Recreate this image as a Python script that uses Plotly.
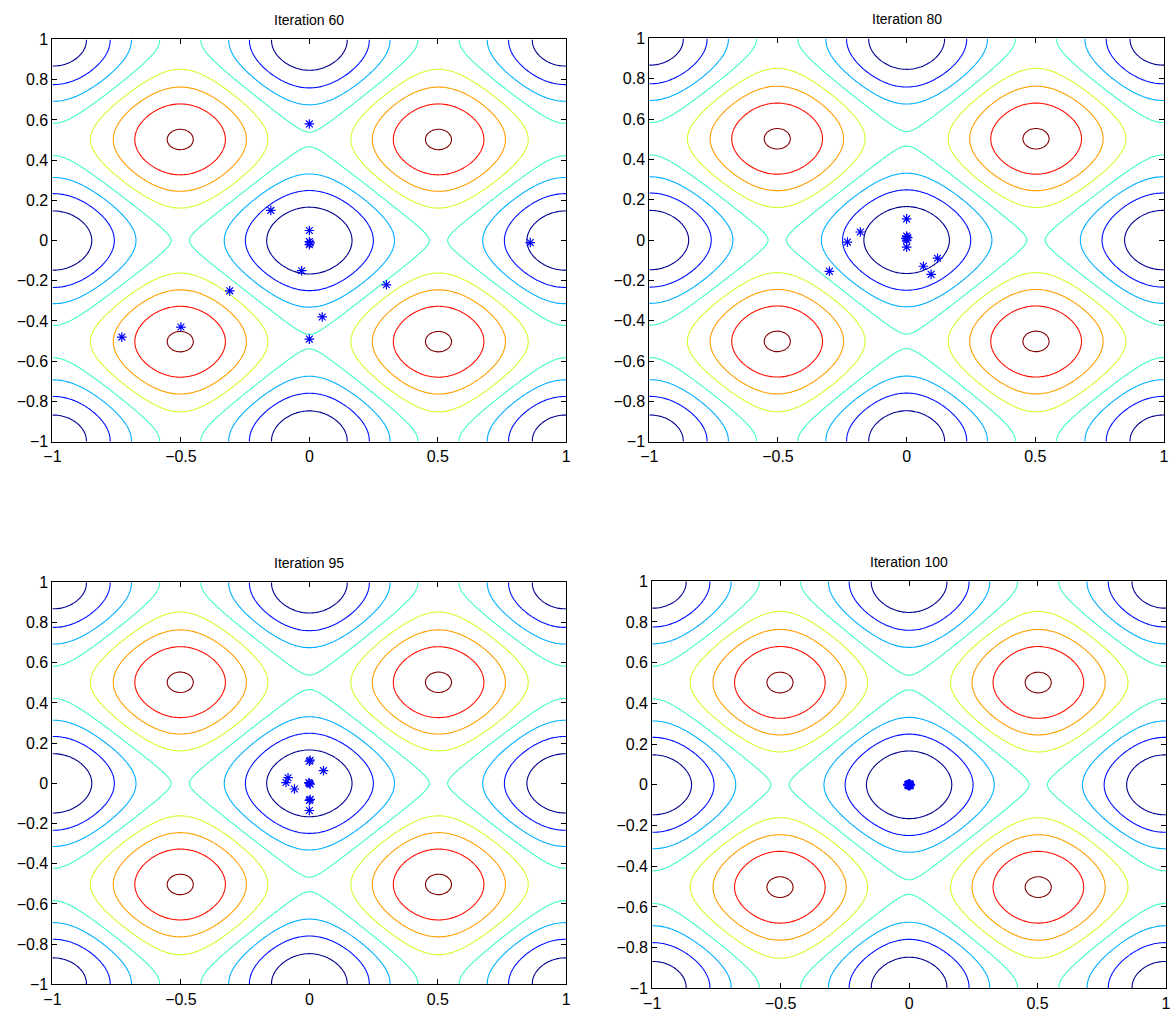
import numpy as np
import plotly.graph_objects as go

# ---- data ----
titles = ["Iteration 60", "Iteration 80", "Iteration 95", "Iteration 100"]

it60_x = [0.0, -0.15, 0.0, 0.0, 0.003, 0.0, -0.03, 0.86, -0.31, 0.30, 0.05, 0.0, -0.73, -0.50]
it60_y = [0.58, 0.15, 0.05, -0.005, -0.012, -0.02, -0.15, -0.01, -0.25, -0.22, -0.38, -0.49, -0.48, -0.43]

it80_x = [0.0, 0.0, 0.004, -0.003, 0.0, 0.0, -0.18, -0.23, -0.30, 0.065, 0.12, 0.095]
it80_y = [0.105, 0.02, 0.012, 0.008, 0.0, -0.035, 0.04, -0.01, -0.155, -0.13, -0.09, -0.17]

it95_x = [0.0, 0.003, 0.055, -0.083, -0.091, -0.058, 0.0, 0.003, -0.002, 0.0, 0.003, 0.0]
it95_y = [0.11, 0.115, 0.063, 0.028, 0.004, -0.028, 0.0, -0.004, 0.004, -0.085, -0.08, -0.135]

it100_x = [0.0, 0.004, -0.004, 0.002, -0.002, 0.005, -0.005, 0.0, 0.003, -0.003]
it100_y = [0.0, 0.002, -0.002, 0.004, -0.004, -0.001, 0.001, 0.005, -0.005, 0.003]

particles = [(it60_x, it60_y), (it80_x, it80_y), (it95_x, it95_y), (it100_x, it100_y)]

levels = [5, 10, 15, 20, 25, 30, 35, 40]
level_colors = ["rgb(0,0,143)", "rgb(0,16,255)", "rgb(0,175,255)", "rgb(64,255,191)",
                "rgb(207,255,48)", "rgb(255,159,0)", "rgb(255,16,0)", "rgb(128,0,0)"]

xticks = [-1, -0.5, 0, 0.5, 1]
xticktext = ["\u22121", "\u22120.5", "0", "0.5", "1"]
yticks = [-1, -0.8, -0.6, -0.4, -0.2, 0, 0.2, 0.4, 0.6, 0.8, 1]
yticktext = ["\u22121", "\u22120.8", "\u22120.6", "\u22120.4", "\u22120.2", "0", "0.2", "0.4", "0.6", "0.8", "1"]

# objective function (Rastrigin) evaluated on a grid
gx = np.linspace(-1, 1, 301)
gy = np.linspace(-1, 1, 301)
X, Y = np.meshgrid(gx, gy)
Z = 20 + X**2 + Y**2 - 10 * (np.cos(2 * np.pi * X) + np.cos(2 * np.pi * Y))

# ---- layout geometry (pixels) ----
W, H = 1171, 1019
boxes = [  # left, right, top, bottom
    (44, 564, 32, 441),
    (648, 1169, 31, 441),
    (44, 564, 584, 993),
    (651, 1171, 583, 997),
]

lo, hi = levels[0], levels[-1]
colorscale = [[(l - lo) / (hi - lo), c] for l, c in zip(levels, level_colors)]

fig = go.Figure()
font = "Liberation Sans, Arial, Helvetica, sans-serif"
for i, ((px, py), box) in enumerate(zip(particles, boxes)):
    ax = "" if i == 0 else str(i + 1)
    fig.add_trace(go.Contour(
        x=gx, y=gy, z=Z, xaxis="x" + ax, yaxis="y" + ax,
        contours=dict(start=lo, end=hi, size=5, coloring="lines"),
        colorscale=colorscale, zmin=lo, zmax=hi, zauto=False,
        line=dict(width=1.1), showscale=False, hoverinfo="skip",
    ))
    fig.add_trace(go.Scatter(
        x=px, y=py, mode="markers", xaxis="x" + ax, yaxis="y" + ax,
        marker=dict(symbol="asterisk-open", size=8, color="blue",
                    line=dict(color="blue", width=1.2)),
        showlegend=False, hoverinfo="skip",
    ))
    l, r, t, b = box
    common = dict(showgrid=False, zeroline=False, showline=True, linecolor="black",
                  linewidth=1, mirror="ticks", ticks="inside", ticklen=5,
                  tickcolor="black", range=[-1, 1],
                  tickfont=dict(family=font, size=16, color="black"))
    fig.layout["xaxis" + ax] = dict(domain=[l / W, r / W], anchor="y" + ax,
                                    tickvals=xticks, ticktext=xticktext, **common)
    fig.layout["yaxis" + ax] = dict(domain=[1 - b / H, 1 - t / H], anchor="x" + ax,
                                    tickvals=yticks, ticktext=yticktext, **common)
    fig.add_annotation(text=titles[i], xref="paper", yref="paper",
                       x=(l + r) / 2 / W, y=1 - (t - 20) / H,
                       xanchor="center", yanchor="middle", showarrow=False,
                       font=dict(family=font, size=14, color="black"))

fig.update_layout(width=W, height=H, margin=dict(l=0, r=0, t=0, b=0),
                  plot_bgcolor="white", paper_bgcolor="white", showlegend=False)
fig.write_html(
    "out.html",
    config={"displayModeBar": False},
    post_script="document.body.style.margin='0';document.body.style.overflow='hidden';"
                "document.documentElement.style.overflow='hidden';",
)
